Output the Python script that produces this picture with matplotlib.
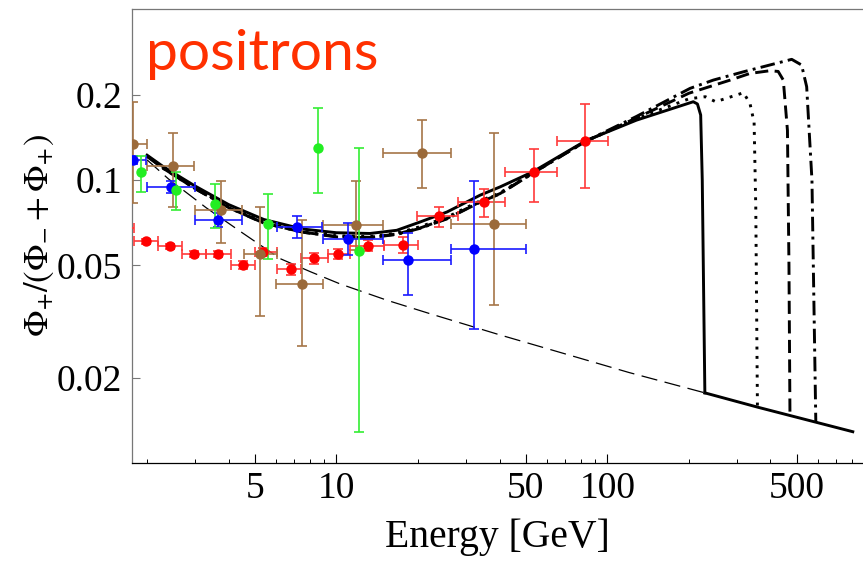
import matplotlib
matplotlib.use('Agg')
import numpy as np
import matplotlib.pyplot as plt

plt.rcParams['font.family'] = 'Liberation Serif'
plt.rcParams['mathtext.fontset'] = 'stix'

# --- measured data (energy in GeV, positron fraction) ---
red_E = [1.6, 1.99, 2.43, 2.99, 3.67, 4.51, 5.36, 6.8, 8.27, 10.17, 13.09, 17.55, 24.0, 35.1, 53.6, 82.7]
red_y = [0.0675, 0.0608, 0.0584, 0.0550, 0.0550, 0.0501, 0.0556, 0.0484, 0.0529, 0.0548, 0.0587, 0.0591, 0.0745, 0.0836, 0.1065, 0.1377]
red_Elo = [1.42, 1.79, 2.2, 2.69, 3.3, 4.08, 5.01, 6.06, 7.39, 9.27, 11.23, 15.0, 19.8, 28.06, 41.9, 65.1]
red_Ehi = [1.785, 2.2, 2.69, 3.3, 4.08, 5.01, 6.06, 7.39, 9.27, 11.23, 15.0, 20.07, 28.06, 41.9, 65.1, 100.3]
red_dn = [0.0015, 0.0013, 0.0013, 0.0013, 0.0013, 0.0017, 0.0018, 0.002, 0.0022, 0.0023, 0.0025, 0.004, 0.006, 0.0095, 0.023, 0.0435]
red_up = [0.0015, 0.0013, 0.0013, 0.0013, 0.0013, 0.0017, 0.0018, 0.002, 0.0022, 0.0023, 0.0025, 0.004, 0.0061, 0.0095, 0.022, 0.048]

blue_E = [1.78, 2.449, 3.64, 7.18, 11.02, 18.44, 32.3]
blue_y = [0.1178, 0.0947, 0.0724, 0.0682, 0.0622, 0.0521, 0.0570]
blue_Elo = [1.6, 2.0, 3.01, 6.03, 8.91, 14.8, 26.5]
blue_Ehi = [1.99, 3.01, 4.47, 8.83, 14.8, 26.5, 50.1]
blue_dn = [0.004, 0.0045, 0.0042, 0.0058, 0.0079, 0.0129, 0.0272]
blue_up = [0.004, 0.0047, 0.0044, 0.0063, 0.0081, 0.0127, 0.0422]

green_E = [1.897, 2.556, 3.568, 5.58, 8.585, 12.13]
green_y = [0.1065, 0.0922, 0.0822, 0.0699, 0.1295, 0.0562]
green_dn = [0.0156, 0.0139, 0.0147, 0.0171, 0.0393, 0.0433]
green_up = [0.0151, 0.0143, 0.0151, 0.0198, 0.0499, 0.0733]

brown_E = [1.774, 2.49, 3.745, 5.23, 7.45, 11.82, 20.66, 38.2]
brown_y = [0.1338, 0.1123, 0.0783, 0.055, 0.0431, 0.0693, 0.1243, 0.0699]
brown_Elo = [1.55, 2.0, 3.0, 4.54, 6.0, 8.91, 14.8, 26.5]
brown_Ehi = [2.0, 2.99, 4.5, 6.03, 8.9, 14.8, 26.5, 50.1]
brown_dn = [0.0509, 0.0319, 0.0181, 0.022, 0.0172, 0.0128, 0.0301, 0.0338]
brown_up = [0.055, 0.0347, 0.0209, 0.0254, 0.0291, 0.0302, 0.0389, 0.0764]

# --- model curves ---
bg_E = [2.0, 2.4, 2.9, 3.3, 4.5, 6.2, 8.0, 10.3, 15.4, 22.2, 40, 70, 120, 229]
bg_y = [0.118, 0.101, 0.088, 0.080, 0.0651, 0.0528, 0.0475, 0.0430, 0.0376, 0.0337, 0.0284, 0.0243, 0.0209, 0.0177]

tail_E = [229, 360, 472, 805]
tail_y = [0.0177, 0.01574, 0.01472, 0.0129]

solid_E = [2.0, 2.3, 3.0, 4.0, 5.4, 7.5, 10.0, 13.3, 16.7, 20.4, 25.6, 33.9, 40.2, 53.0, 83.0, 128.0,
           207.5, 215, 221, 224, 229]
solid_y = [0.1226, 0.1115, 0.0955, 0.0820, 0.0726, 0.0672, 0.0652, 0.0648, 0.0665, 0.0712, 0.0772, 0.0885, 0.0947, 0.107, 0.1377, 0.163,
           0.1894, 0.186, 0.17, 0.10, 0.0177]

dotted_E = [2.0, 2.3, 3.0, 4.0, 5.4, 7.5, 10.0, 13.3, 16.7, 20.4, 25.6, 33.9, 40.2, 53.0, 83.0, 128.0,
            200, 230, 251, 318, 336, 348, 353, 358]
dotted_y = [0.1218, 0.1105, 0.0940, 0.0805, 0.0710, 0.0660, 0.0636, 0.0632, 0.0650, 0.0685, 0.0740, 0.0845, 0.0903, 0.1062, 0.1370, 0.165,
            0.194, 0.1973, 0.1894, 0.2038, 0.1868, 0.16, 0.08, 0.0157]

dashed_E = [2.0, 2.3, 3.0, 4.0, 5.4, 7.5, 10.0, 13.3, 16.7, 20.4, 25.6, 33.9, 40.2, 53.0, 83.0, 128.0,
            200, 284, 336, 398, 427, 446, 462, 468, 472]
dashed_y = [0.1215, 0.110, 0.0935, 0.080, 0.0705, 0.0655, 0.0632, 0.0628, 0.0645, 0.0678, 0.0732, 0.0838, 0.0897, 0.1059, 0.1370, 0.166,
            0.203, 0.2259, 0.2385, 0.2438, 0.2424, 0.2259, 0.15, 0.05, 0.01472]

dashdot_E = [2.0, 2.3, 3.0, 4.0, 5.4, 7.5, 10.0, 13.3, 16.7, 20.4, 25.6, 33.9, 40.2, 53.0, 83.0, 128.0,
             202, 246, 318, 376, 479, 521, 544, 569, 588]
dashdot_y = [0.1215, 0.110, 0.0935, 0.080, 0.0705, 0.0655, 0.0630, 0.0626, 0.0643, 0.0676, 0.0730, 0.0836, 0.0895, 0.1057, 0.1372, 0.168,
             0.2112, 0.2259, 0.2417, 0.2519, 0.2675, 0.2554, 0.214, 0.10, 0.0139]

x_major = [5, 10, 50, 100, 500]
x_minor = [2, 3, 4, 6, 7, 8, 9, 20, 30, 40, 60, 70, 80, 90, 200, 300, 400, 600, 700, 800]
y_major = [0.02, 0.05, 0.1, 0.2]
y_labels = ['0.02', '0.05', '0.1', '0.2']

fig = plt.figure(figsize=(8.63, 5.63), dpi=100)
ax = fig.add_axes([132 / 863, 1 - 463 / 563, 1 - 132 / 863, (463 - 9) / 563])
ax.set_xscale('log')
ax.set_yscale('log')

# background and models
ax.plot(bg_E, bg_y, color='black', lw=0.9, dashes=(13, 6), zorder=2)
ax.plot(tail_E, tail_y, color='black', lw=2.1, zorder=2)
ax.plot(solid_E, solid_y, color='black', lw=2.1, zorder=2)
ax.plot(dotted_E, dotted_y, color='black', lw=2.1, dashes=(1, 2.2), zorder=2)
ax.plot(dashed_E, dashed_y, color='black', lw=2.1, dashes=(4.5, 2.2), zorder=2)
ax.plot(dashdot_E, dashdot_y, color='black', lw=2.1, dashes=(5, 1.8, 1, 1.8), zorder=2)


def draw_points(E, y, dn, up, color, ecolor, Elo=None, Ehi=None):
    E = np.array(E)
    xerr = None
    if Elo is not None:
        xerr = [E - np.array(Elo), np.array(Ehi) - E]
    ax.errorbar(E, y, yerr=[dn, up], xerr=xerr, fmt='o', color=color, ecolor=ecolor,
                ms=6.5, elinewidth=1.2, capsize=3.5, capthick=1.2, zorder=3)


draw_points(red_E, red_y, red_dn, red_up, '#ff0000', '#ff3a3a', red_Elo, red_Ehi)
draw_points(brown_E, brown_y, brown_dn, brown_up, '#9b6a3a', '#a57548', brown_Elo, brown_Ehi)
draw_points(blue_E, blue_y, blue_dn, blue_up, '#0000ff', '#1a1aff', blue_Elo, blue_Ehi)
draw_points(green_E, green_y, green_dn, green_up, '#22ee22', '#33ee33')

ax.set_xlim(1.76, 878)
ax.set_ylim(0.01, 0.403)

ax.set_xticks(x_major)
ax.set_xticklabels([str(v) for v in x_major])
ax.set_xticks(x_minor, minor=True)
ax.set_xticklabels([], minor=True)
ax.set_yticks(y_major)
ax.set_yticklabels(y_labels)
ax.set_yticks([], minor=True)

ax.tick_params(axis='x', which='major', direction='in', length=6.5, width=0.8, labelsize=27, pad=6)
ax.tick_params(axis='x', which='minor', direction='in', length=3.2, width=0.7)
ax.tick_params(axis='y', which='major', direction='in', length=5.5, width=0.8, color='#777777',
               labelsize=27, pad=7)

ax.spines['right'].set_visible(False)
ax.spines['left'].set_color('#777777')
ax.spines['top'].set_color('#777777')
ax.spines['bottom'].set_color('black')
for s in ax.spines.values():
    s.set_linewidth(0.9)

ax.set_xlabel('Energy [GeV]', fontsize=28.5, labelpad=9)
ax.set_ylabel(r'$\Phi_{+}/(\Phi_{-}+\Phi_{+})$', fontsize=25, labelpad=1)

fig.text(146 / 863, 1 - 70 / 563, 'positrons', color='#ff3000', fontsize=41,
         family='Lato', va='baseline', ha='left')

fig.savefig('out.png', dpi=100)
